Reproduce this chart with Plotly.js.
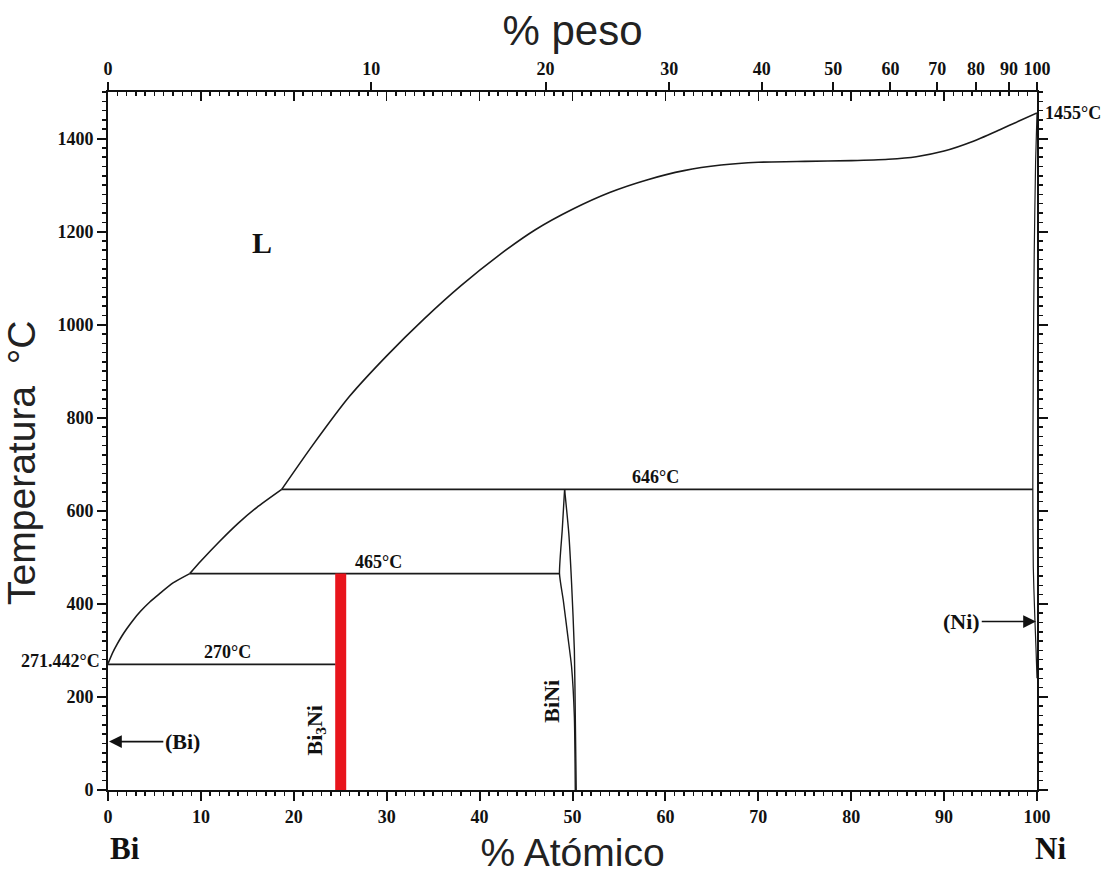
<!DOCTYPE html>
<html>
<head>
<meta charset="utf-8">
<script src="https://cdn.plot.ly/plotly-3.0.1.min.js"></script>
<style>html,body{margin:0;padding:0;background:#fff;}#chart{width:1112px;height:874px;}</style>
</head>
<body>
<div id="chart"></div>
<script>
// ---- Data ----
// Liquidus, three segments (x = at.% Ni, y = °C)
const liq1X = [0, 0.5, 1.0, 1.5, 2.0, 2.7, 3.5, 4.5, 5.5, 7.0, 8.8];
const liq1Y = [271.4, 295, 314, 331, 346, 365, 384, 404, 421, 445, 465];
const liq2X = [8.8, 10, 12, 14, 16, 18.7];
const liq2Y = [465, 492, 534, 573, 607, 646];
const liq3X = [18.7, 22, 26, 30, 34, 38, 42, 46, 50, 54, 58, 62, 66, 70, 75, 80, 84, 87, 90, 93, 96, 98, 100];
const liq3Y = [646, 740, 846, 933, 1012, 1084, 1148, 1204, 1248, 1284, 1311, 1331, 1343, 1349, 1351, 1352.5, 1355.5, 1361, 1373, 1393, 1419, 1437, 1455];
// Invariant lines
const eutBiX = [0, 24.5];      const eutBiY = [270, 270];
const perit465X = [8.8, 48.6]; const perit465Y = [465, 465];
const perit646X = [18.7, 99.55]; const perit646Y = [646, 646];
// BiNi phase boundaries
const biniLeftX  = [49.15, 48.9, 48.6, 49.0, 49.5, 49.9, 50.2, 50.3];
const biniLeftY  = [646, 560, 465, 409, 330, 265, 158, 0];
const biniRightX = [49.15, 49.6, 49.9, 50.2, 50.3, 50.4];
const biniRightY = [646, 552, 445, 301, 158, 0];
// Bi3Ni line compound
const bi3niX = [25.05, 25.05];
const bi3niY = [0, 465];
// (Ni) solidus / solvus
const niX = [100, 99.85, 99.7, 99.6, 99.55, 99.6, 99.75, 99.9, 100];
const niY = [1455, 1350, 1150, 900, 646, 480, 380, 300, 240];
// Top axis: weight % Ni labels
const wtTicks = [0, 10, 20, 30, 40, 50, 60, 70, 80, 90, 100];
const M_NI = 58.6934, M_BI = 208.9804;
function wtToAt(w) { const n = w / M_NI, b = (100 - w) / M_BI; return 100 * n / (n + b); }

// ---- Styling ----
const LC = '#1a1a1a';
const serifB = {family: 'Liberation Serif, Times New Roman, serif', color: '#111', weight: 'bold'};
const sans = {family: 'Liberation Sans, Arial, sans-serif', color: '#222'};

function line(x, y, shape, w) {
  return {x: x, y: y, type: 'scatter', mode: 'lines', showlegend: false, hoverinfo: 'skip',
          line: {color: LC, width: w || 1.6, shape: shape || 'linear', smoothing: 0.6}};
}

const traces = [
  line(liq1X, liq1Y, 'spline'),
  line(liq2X, liq2Y, 'spline'),
  line(liq3X, liq3Y, 'spline'),
  line(eutBiX, eutBiY),
  line(perit465X, perit465Y),
  line(perit646X, perit646Y),
  line(biniLeftX, biniLeftY, 'spline', 1.4),
  line(biniRightX, biniRightY, 'spline', 1.4),
  line(niX, niY, 'spline', 1.2),
  {x: bi3niX, y: bi3niY, type: 'scatter', mode: 'lines', showlegend: false, hoverinfo: 'skip',
   line: {color: '#e8141c', width: 11}},
  {x: [0], y: [0], type: 'scatter', mode: 'none', xaxis: 'x2', yaxis: 'y', showlegend: false, hoverinfo: 'skip'},
  {x: [0], y: [0], type: 'scatter', mode: 'none', xaxis: 'x3', yaxis: 'y', showlegend: false, hoverinfo: 'skip'},
  {x: [0], y: [0], type: 'scatter', mode: 'none', xaxis: 'x', yaxis: 'y2', showlegend: false, hoverinfo: 'skip'}
];

const tickFont = Object.assign({size: 18}, serifB);
const labFont = Object.assign({size: 18}, serifB);

const layout = {
  width: 1112, height: 874,
  margin: {l: 108, r: 75, t: 92, b: 84},
  paper_bgcolor: '#fff', plot_bgcolor: '#fff',
  showlegend: false,
  xaxis: {
    range: [0, 100], showgrid: false, zeroline: false,
    showline: true, linecolor: '#111', linewidth: 2,
    ticks: 'outside', tickmode: 'linear', tick0: 0, dtick: 10, ticklen: 9, tickwidth: 2, tickcolor: '#111',
    minor: {ticks: 'outside', dtick: 1, ticklen: 4, tickwidth: 1.5, tickcolor: '#111'},
    tickfont: tickFont,
    title: {text: '% Atómico', font: Object.assign({size: 39}, sans), standoff: 16}
  },
  xaxis2: {
    overlaying: 'x', side: 'top', anchor: 'y', range: [0, 100], showgrid: false, zeroline: false,
    showline: true, linecolor: '#111', linewidth: 2,
    ticks: 'inside', tickmode: 'linear', tick0: 0, dtick: 10, ticklen: 9, tickwidth: 1.5, tickcolor: '#111',
    minor: {ticks: 'inside', dtick: 1, ticklen: 4, tickwidth: 1.5, tickcolor: '#111'},
    showticklabels: false
  },
  xaxis3: {
    overlaying: 'x', side: 'top', anchor: 'y', range: [0, 100], showgrid: false, zeroline: false,
    showline: false,
    ticks: 'outside', tickmode: 'array', tickvals: wtTicks.map(wtToAt), ticktext: wtTicks.map(String),
    ticklen: 9, tickwidth: 2, tickcolor: '#111',
    tickfont: tickFont,
    title: {text: '% peso', font: Object.assign({size: 42}, sans), standoff: 0}
  },
  yaxis: {
    range: [0, 1500], showgrid: false, zeroline: false,
    showline: true, linecolor: '#111', linewidth: 2,
    ticks: 'outside', tickmode: 'linear', tick0: 0, dtick: 200, ticklen: 9, tickwidth: 2, tickcolor: '#111',
    minor: {ticks: 'outside', dtick: 20, ticklen: 4, tickwidth: 1.5, tickcolor: '#111'},
    tickfont: tickFont,
    title: {text: 'Temperatura\u00a0\u00a0°C<span style="color:rgba(0,0,0,0)">__</span>', font: Object.assign({size: 39}, sans), standoff: 12}
  },
  yaxis2: {
    overlaying: 'y', side: 'right', anchor: 'x', range: [0, 1500], showgrid: false, zeroline: false,
    showline: true, linecolor: '#111', linewidth: 2,
    ticks: 'outside', tickmode: 'linear', tick0: 0, dtick: 200, ticklen: 9, tickwidth: 2, tickcolor: '#111',
    minor: {ticks: 'outside', dtick: 20, ticklen: 4, tickwidth: 1.5, tickcolor: '#111'},
    showticklabels: false
  },
  annotations: [
    {x: 16.6, y: 1176, xref: 'x', yref: 'y', text: 'L', showarrow: false, font: Object.assign({size: 30}, serifB)},
    {x: 12.9, y: 270, xref: 'x', yref: 'y', text: '270°C', showarrow: false, yanchor: 'bottom', font: labFont},
    {x: 29.1, y: 465, xref: 'x', yref: 'y', text: '465°C', showarrow: false, yanchor: 'bottom', font: labFont},
    {x: 58.9, y: 646, xref: 'x', yref: 'y', text: '646°C', showarrow: false, yanchor: 'bottom', font: labFont},
    {x: 0, y: 271.4, xref: 'x', yref: 'y', text: '271.442°C', showarrow: false, xanchor: 'right', xshift: -6, yshift: 3, font: labFont},
    {x: 100, y: 1455, xref: 'x', yref: 'y', text: '1455°C', showarrow: false, xanchor: 'left', xshift: 6, font: labFont},
    {x: 22.4, y: 128, xref: 'x', yref: 'y', text: 'Bi<sub>3</sub>Ni', showarrow: false, textangle: -90, font: Object.assign({size: 22}, serifB)},
    {x: 47.8, y: 190, xref: 'x', yref: 'y', text: 'BiNi', showarrow: false, textangle: -90, font: Object.assign({size: 22}, serifB)},
    {x: 0, y: 104, xref: 'x', yref: 'y', ax: 8.0, ay: 104, axref: 'x', ayref: 'y', text: '(Bi)', showarrow: true,
     arrowhead: 2, arrowsize: 1.6, arrowwidth: 1.6, arrowcolor: '#111', standoff: 1, font: Object.assign({size: 22}, serifB)},
    {x: 100, y: 362, xref: 'x', yref: 'y', ax: 91.9, ay: 362, axref: 'x', ayref: 'y', text: '(Ni)', showarrow: true,
     arrowhead: 2, arrowsize: 1.6, arrowwidth: 1.6, arrowcolor: '#111', standoff: 1, font: Object.assign({size: 22}, serifB)},
    {x: 0, y: 0, xref: 'x', yref: 'paper', text: 'Bi', showarrow: false, xanchor: 'left', yanchor: 'middle', yshift: -58, font: Object.assign({size: 31}, serifB)},
    {x: 100, y: 0, xref: 'x', yref: 'paper', text: 'Ni', showarrow: false, xanchor: 'left', yanchor: 'middle', yshift: -58, xshift: -4, font: Object.assign({size: 31}, serifB)}
  ]
};

Plotly.newPlot('chart', traces, layout, {staticPlot: true, displayModeBar: false});
</script>
</body>
</html>
